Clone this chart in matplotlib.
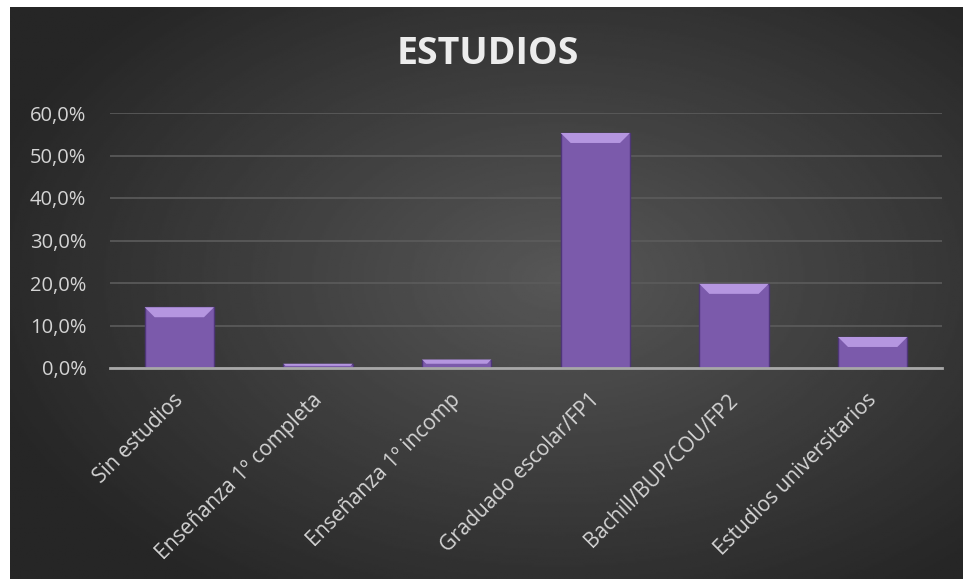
import numpy as np
import matplotlib.pyplot as plt
from matplotlib.patches import Polygon
from matplotlib.ticker import FuncFormatter
from matplotlib.transforms import ScaledTranslation

categories = [
    "Sin estudios",
    "Enseñanza 1º completa",
    "Enseñanza 1º incomp",
    "Graduado escolar/FP1",
    "Bachill/BUP/COU/FP2",
    "Estudios universitarios",
]
values = [0.143, 0.010, 0.020, 0.553, 0.198, 0.073]
yticks = [0.0, 0.1, 0.2, 0.3, 0.4, 0.5, 0.6]

plt.rcParams["font.family"] = ["Open Sans", "DejaVu Sans"]

W, H = 963, 579
fig = plt.figure(figsize=(W / 100, H / 100), dpi=100)
fig.patch.set_facecolor("white")

# radial gradient background of the chart area
bg = fig.add_axes([10 / W, 0, (W - 10) / W, (H - 7) / H])
yy, xx = np.mgrid[-1:1:300j, -1:1:500j]
r = np.sqrt(((xx - 0.15) * 0.95) ** 2 + ((yy + 0.05) * 0.9) ** 2)
shade = np.clip(0.34 - 0.16 * r, 0.15, 0.34)
bg.imshow(shade, cmap="gray", vmin=0, vmax=1, aspect="auto", extent=[0, 1, 0, 1])
bg.set_axis_off()

ax = fig.add_axes([110 / W, 1 - 368 / H, (942 - 110) / W, (368 - 113) / H])
ax.patch.set_alpha(0)

x = np.arange(len(categories))
bw = 0.5
ax.bar(x, values, width=bw, color="#7b5aab", edgecolor="#4e3678", linewidth=1.0, zorder=3)

# bevel highlight on top of each bar (about 10 px deep)
px_y = 0.6 / 255
px_x = len(categories) / 832
for xi, v in zip(x, values):
    d = min(10 * px_y, v * 0.5)
    dx = d / px_y * px_x
    top = Polygon(
        [(xi - bw / 2, v), (xi + bw / 2, v), (xi + bw / 2 - dx, v - d), (xi - bw / 2 + dx, v - d)],
        closed=True, facecolor="#b596e0", edgecolor="none", zorder=4,
    )
    ax.add_patch(top)

ax.set_xlim(-0.5, len(categories) - 0.5)
ax.set_ylim(0, 0.6)
ax.set_yticks(yticks)
ax.yaxis.set_major_formatter(FuncFormatter(lambda v, p: f"{v * 100:.1f}%".replace(".", ",")))
ax.grid(axis="y", color="#5c5c5c", linewidth=1.2, zorder=0)
ax.set_axisbelow(True)

for s in ["top", "right", "left"]:
    ax.spines[s].set_visible(False)
ax.spines["bottom"].set_color("#a8a8a8")
ax.spines["bottom"].set_linewidth(2)
ax.spines["bottom"].set_zorder(5)

ax.tick_params(axis="y", length=0, colors="#d4d4d4", labelsize=14.5, pad=17)
ax.set_xticks(x)
ax.set_xticklabels(categories, rotation=45, ha="right", va="center", rotation_mode="anchor")
ax.tick_params(axis="x", length=0, colors="#d4d4d4", labelsize=15, pad=21)
for lab in ax.get_xticklabels():
    lab.set_transform(lab.get_transform() + ScaledTranslation(1 / 100, 0, fig.dpi_scale_trans))

fig.text(488 / W, 1 - 54 / H, "ESTUDIOS", ha="center", va="center",
         fontsize=27, fontweight="bold", color="#ececec")

fig.savefig("out.png", dpi=100)
